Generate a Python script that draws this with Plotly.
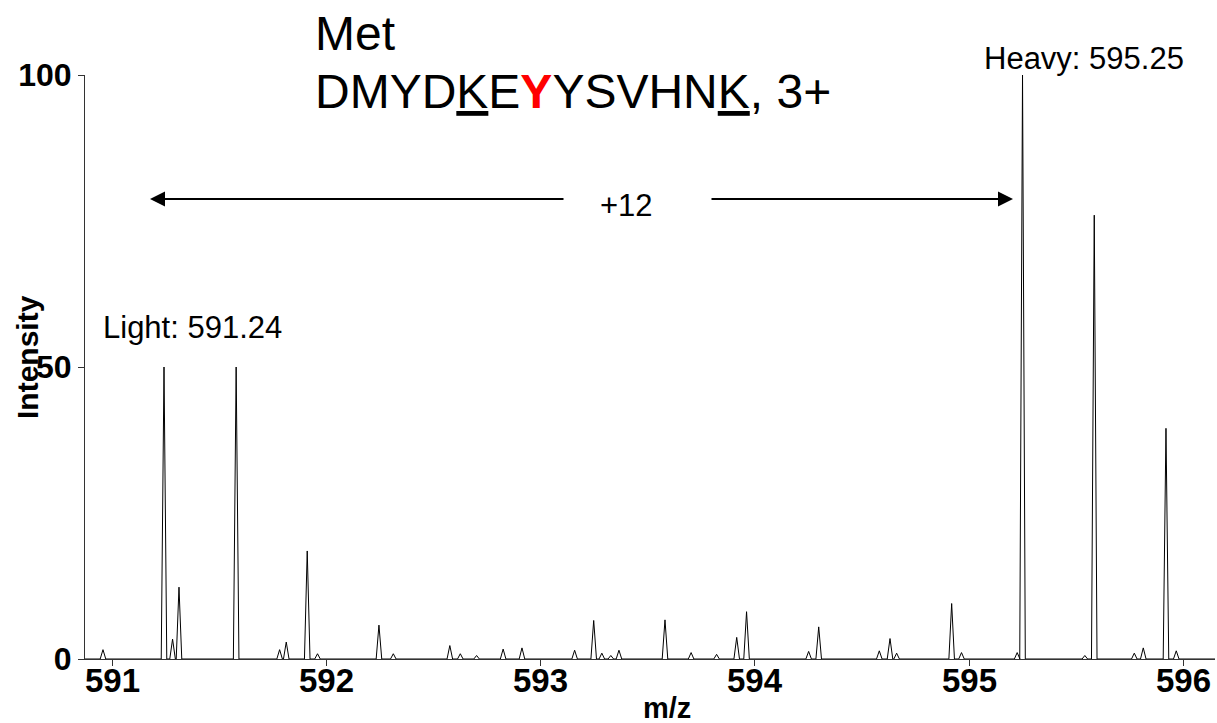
import plotly.graph_objects as go

# Peak centroids (m/z) and relative intensities (%)
peak_mz = [
    590.955, 591.24, 591.280, 591.310, 591.577, 591.780, 591.811, 591.909, 591.957,
    592.244, 592.311, 592.575, 592.624, 592.700, 592.824, 592.912,
    593.158, 593.247, 593.285, 593.327, 593.365, 593.580, 593.702, 593.821, 593.915, 593.961,
    594.251, 594.298, 594.581, 594.631, 594.662, 594.919, 594.965,
    595.225, 595.25, 595.541, 595.585, 595.772, 595.814, 595.920, 595.968,
]
peak_int = [
    1.6, 50, 3.4, 12.3, 50, 1.6, 2.9, 18.5, 0.9,
    5.8, 0.9, 2.3, 0.9, 0.6, 1.7, 1.9,
    1.5, 6.6, 1.0, 0.6, 1.5, 6.7, 1.1, 0.8, 3.7, 8.1,
    1.3, 5.5, 1.4, 3.5, 1.0, 9.5, 1.1,
    1.1, 100, 0.6, 76, 1.0, 1.9, 39.5, 1.4,
]

x_ticks = [591, 592, 593, 594, 595, 596]
y_ticks = [0, 50, 100]
x_range = [590.871, 596.149]
y_range = [0, 100]

light_mz, heavy_mz = 591.24, 595.25

# Profile trace: each centroid drawn as a narrow peak on a zero baseline
half_width = 0.013
xs, ys = [x_range[0]], [0]
for mz, inten in zip(peak_mz, peak_int):
    xs += [mz - half_width, mz, mz + half_width]
    ys += [0, inten, 0]
xs.append(x_range[1])
ys.append(0)

fig = go.Figure(go.Scatter(x=xs, y=ys, mode="lines",
                           line=dict(color="black", width=1), hoverinfo="skip"))

FONT = "Liberation Sans, Arial, sans-serif"

W, H = 1217, 723
ML, MR, MT, MB = 85, 2, 75, 64
PW, PH = W - ML - MR, H - MT - MB


def px_x(px):
    return (px - ML) / PW


def px_y(py):
    return (H - MB - py) / PH


annotations = [
    dict(text="Met", x=px_x(313), y=px_y(33), xanchor="left", yanchor="middle",
         font=dict(size=48, color="black", family=FONT)),
    dict(text="DMYD<u>K</u>E<b><span style='color:#ff0000'>Y</span></b>YSVHN<u>K</u>, 3+",
         x=px_x(313), y=px_y(91), xanchor="left", yanchor="middle",
         font=dict(size=48, color="black", family=FONT)),
    dict(text=f"Heavy: {heavy_mz:.2f}", x=px_x(982), y=px_y(59), xanchor="left", yanchor="middle",
         font=dict(size=31, color="black", family=FONT)),
    dict(text=f"Light: {light_mz:.2f}", x=px_x(101), y=px_y(327), xanchor="left", yanchor="middle",
         font=dict(size=31, color="black", family=FONT)),
    dict(text="+12", x=px_x(626), y=px_y(206), xanchor="center", yanchor="middle",
         font=dict(size=31, color="black", family=FONT)),
    dict(text="<b>Intensity</b>", x=px_x(27), y=px_y(357), xanchor="center", yanchor="middle",
         textangle=-90, font=dict(size=30, color="black", family=FONT)),
    dict(text="<b>m/z</b>", x=px_x(667), y=px_y(708), xanchor="center", yanchor="middle",
         font=dict(size=29, color="black", family=FONT)),
]
for a in annotations:
    a.update(xref="paper", yref="paper", showarrow=False)

# x tick labels sit close under the axis ticks
for t in x_ticks:
    annotations.append(dict(
        text=f"<b>{t}</b>", xref="x", yref="paper", x=t, y=px_y(680),
        xanchor="center", yanchor="middle", showarrow=False,
        font=dict(size=33, color="black", family=FONT),
    ))

# Double-headed "+12" span drawn as two arrows pointing outward
arrow_y = px_y(199)
for head_px, tail_px in [(150, 565), (1013, 710)]:
    annotations.append(dict(
        xref="paper", yref="paper", axref="pixel", ayref="pixel",
        x=px_x(head_px), y=arrow_y, ax=tail_px - head_px, ay=0,
        text="", showarrow=True, arrowhead=2, arrowsize=1.5, arrowwidth=2,
        arrowcolor="black", standoff=0,
    ))

fig.update_layout(
    width=W, height=H,
    margin=dict(l=ML, r=MR, t=MT, b=MB, pad=0),
    paper_bgcolor="white", plot_bgcolor="white",
    showlegend=False,
    annotations=annotations,
    xaxis=dict(range=x_range, tickvals=x_ticks, showticklabels=False,
               showgrid=False, zeroline=False, showline=True, linecolor="#333", linewidth=1,
               ticks="outside", ticklen=6, tickcolor="#333"),
    yaxis=dict(range=y_range, tickvals=y_ticks, ticktext=[str(t) for t in y_ticks],
               showgrid=False, zeroline=False, showline=True, linecolor="#333", linewidth=1,
               ticks="outside", ticklen=6, tickcolor="#333",
               tickfont=dict(size=32, color="black", family=FONT, weight="bold")),
)

fig.write_html("out.html")
